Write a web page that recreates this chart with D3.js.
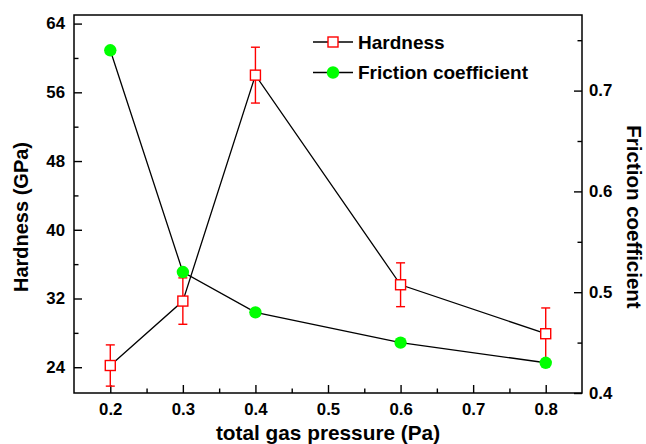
<!DOCTYPE html>
<html>
<head>
<meta charset="utf-8">
<script src="https://cdn.jsdelivr.net/npm/d3@7"></script>
<style>
  body { margin: 0; background: #fff; }
  svg text { font-family: "Liberation Sans", Arial, sans-serif; font-weight: bold; fill: #000; }
</style>
</head>
<body>
<div class="container"></div>
<script>
// data
var pressure = [0.2, 0.3, 0.4, 0.6, 0.8];
var hardness = [24.2, 31.7, 58.0, 33.6, 27.9];
var hardnessErr = [2.4, 2.7, 3.25, 2.55, 3.0];
var friction = [0.74, 0.52, 0.48, 0.45, 0.43];

var xTicks = [0.2, 0.3, 0.4, 0.5, 0.6, 0.7, 0.8];
var xMinor = [0.25, 0.35, 0.45, 0.55, 0.65, 0.75];
var hTicks = [24, 32, 40, 48, 56, 64];
var hMinor = [28, 36, 44, 52, 60];
var fTicks = [0.4, 0.5, 0.6, 0.7];
var fMinor = [0.45, 0.55, 0.65, 0.75];

var legendNames = ['Hardness', 'Friction coefficient'];

var opts = {
  width: 646,
  height: 444,
  left: 74, right: 582, top: 15, bottom: 393
};

var svg = d3.select('.container').append('svg')
  .attr('width', opts.width)
  .attr('height', opts.height);

var x = d3.scaleLinear().domain([0.15, 0.85]).range([opts.left, opts.right]);
var yH = d3.scaleLinear().domain([21, 65]).range([opts.bottom, opts.top]);
var yF = d3.scaleLinear().domain([0.4, 0.775]).range([opts.bottom, opts.top]);

var fmt = d3.format('.1f');

// minor ticks first (no labels)
var minorAxis = function(axis, vals){
  return axis.tickValues(vals).tickSize(-4.5).tickFormat('');
};
svg.append('g').attr('transform', 'translate(0,' + opts.bottom + ')')
  .call(minorAxis(d3.axisBottom(x), xMinor));
svg.append('g').attr('transform', 'translate(' + opts.left + ',0)')
  .call(minorAxis(d3.axisLeft(yH), hMinor));
svg.append('g').attr('transform', 'translate(' + opts.right + ',0)')
  .call(minorAxis(d3.axisRight(yF), fMinor));

// major axes
svg.append('g').attr('transform', 'translate(0,' + opts.bottom + ')')
  .call(d3.axisBottom(x).tickValues(xTicks).tickSize(-8).tickPadding(10).tickFormat(fmt));
svg.append('g').attr('transform', 'translate(' + opts.left + ',0)')
  .call(d3.axisLeft(yH).tickValues(hTicks).tickSize(-8).tickPadding(9));
svg.append('g').attr('transform', 'translate(' + opts.right + ',0)')
  .call(d3.axisRight(yF).tickValues(fTicks).tickSize(-8).tickPadding(7).tickFormat(fmt));

svg.selectAll('.domain').remove();
svg.selectAll('.tick line').attr('stroke', '#000').attr('stroke-width', 1.4);
svg.selectAll('.tick text').attr('font-size', 16.8).attr('font-family', null);

// frame
svg.append('rect')
  .attr('x', opts.left).attr('y', opts.top)
  .attr('width', opts.right - opts.left).attr('height', opts.bottom - opts.top)
  .attr('fill', 'none').attr('stroke', '#000').attr('stroke-width', 1.5);

// axis titles
svg.append('text')
  .attr('x', x(0.5)).attr('y', 440)
  .attr('text-anchor', 'middle').attr('font-size', 20.8)
  .text('total gas pressure (Pa)');
svg.append('text')
  .attr('transform', 'translate(28,217) rotate(-90)')
  .attr('text-anchor', 'middle').attr('font-size', 20)
  .text('Hardness (GPa)');
svg.append('text')
  .attr('transform', 'translate(627,217) rotate(90)')
  .attr('text-anchor', 'middle').attr('font-size', 20.5)
  .text('Friction coefficient');

// lines
var lineH = d3.line().x(function(d, i){ return x(pressure[i]); }).y(function(d){ return yH(d); });
var lineF = d3.line().x(function(d, i){ return x(pressure[i]); }).y(function(d){ return yF(d); });

svg.append('path').attr('d', lineH(hardness))
  .attr('fill', 'none').attr('stroke', '#000').attr('stroke-width', 1.3);
svg.append('path').attr('d', lineF(friction))
  .attr('fill', 'none').attr('stroke', '#000').attr('stroke-width', 1.3);

// error bars
var err = svg.selectAll('.err').data(hardness).enter().append('g').attr('class', 'err');
err.append('line')
  .attr('x1', function(d, i){ return x(pressure[i]); })
  .attr('x2', function(d, i){ return x(pressure[i]); })
  .attr('y1', function(d, i){ return yH(d + hardnessErr[i]); })
  .attr('y2', function(d, i){ return yH(d - hardnessErr[i]); });
[1, -1].forEach(function(s){
  err.append('line')
    .attr('x1', function(d, i){ return x(pressure[i]) - 4.5; })
    .attr('x2', function(d, i){ return x(pressure[i]) + 4.5; })
    .attr('y1', function(d, i){ return yH(d + s * hardnessErr[i]); })
    .attr('y2', function(d, i){ return yH(d + s * hardnessErr[i]); });
});
err.selectAll('line').attr('stroke', '#ff0000').attr('stroke-width', 1.4);

// markers
svg.selectAll('.hmark').data(hardness).enter().append('rect')
  .attr('class', 'hmark')
  .attr('x', function(d, i){ return x(pressure[i]) - 5; })
  .attr('y', function(d){ return yH(d) - 5; })
  .attr('width', 10).attr('height', 10)
  .attr('fill', '#fff').attr('stroke', '#ff0000').attr('stroke-width', 1.4);

svg.selectAll('.fmark').data(friction).enter().append('circle')
  .attr('class', 'fmark')
  .attr('cx', function(d, i){ return x(pressure[i]); })
  .attr('cy', function(d){ return yF(d); })
  .attr('r', 6.2)
  .attr('fill', '#00ff00');

// legend
var legend = svg.selectAll('.legend').data(legendNames).enter().append('g')
  .attr('class', 'legend')
  .attr('transform', function(d, i){ return 'translate(313,' + (42 + i * 30.5) + ')'; });
legend.append('line').attr('x1', 0).attr('x2', 40)
  .attr('stroke', '#000').attr('stroke-width', 1.3);
legend.append('text').attr('x', 45).attr('dy', '0.36em')
  .attr('font-size', 19)
  .text(function(d){ return d; });
legend.filter(function(d, i){ return i === 0; }).append('rect')
  .attr('x', 15).attr('y', -5).attr('width', 10).attr('height', 10)
  .attr('fill', '#fff').attr('stroke', '#ff0000').attr('stroke-width', 1.4);
legend.filter(function(d, i){ return i === 1; }).append('circle')
  .attr('cx', 20).attr('r', 6.2).attr('fill', '#00ff00');
</script>
</body>
</html>
